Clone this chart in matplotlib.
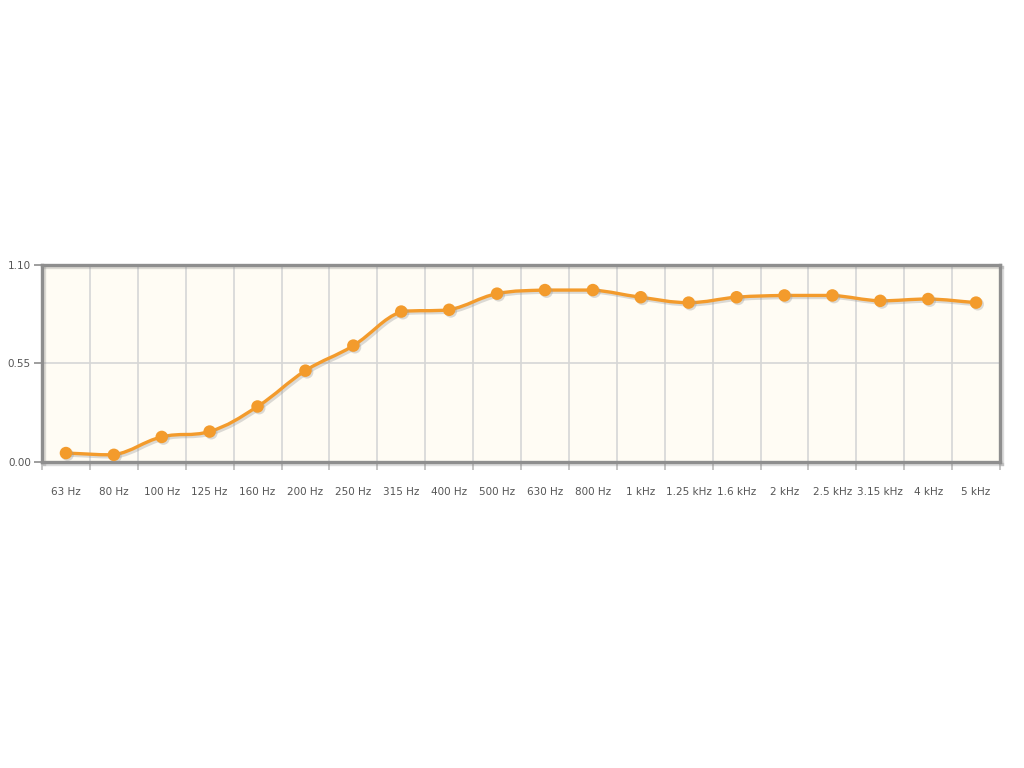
import numpy as np
import matplotlib
matplotlib.use("Agg")
import matplotlib.pyplot as plt
from matplotlib.path import Path
from matplotlib.patches import PathPatch
import matplotlib.patheffects as pe

# Data
bands = ["63 Hz", "80 Hz", "100 Hz", "125 Hz", "160 Hz", "200 Hz", "250 Hz",
         "315 Hz", "400 Hz", "500 Hz", "630 Hz", "800 Hz", "1 kHz", "1.25 kHz",
         "1.6 kHz", "2 kHz", "2.5 kHz", "3.15 kHz", "4 kHz", "5 kHz"]
absorption = [0.05, 0.04, 0.14, 0.17, 0.31, 0.51, 0.65, 0.84, 0.85, 0.94,
              0.96, 0.96, 0.92, 0.89, 0.92, 0.93, 0.93, 0.90, 0.91, 0.89]
y_ticks = [0.00, 0.55, 1.10]

orange = "#F39B2C"
border = "#8E8E8E"

fig = plt.figure(figsize=(10.24, 7.68), dpi=100)
ax = fig.add_axes([42 / 1024, 1 - 462 / 768, 958 / 1024, 197 / 768])
ax.set_facecolor("#FFFCF4")

x = np.arange(len(bands))
ax.set_xlim(-0.5, len(bands) - 0.5)
ax.set_ylim(0, 1.10)

# grid
for b in np.arange(0.5, len(bands) - 0.5, 1):
    ax.axvline(b, color="#D6D6D6", lw=1.2, zorder=1)
ax.axhline(0.55, color="#D6D6D6", lw=1.2, zorder=1)

# smooth line through the points, control points kept inside each segment
pts = np.column_stack([x, absorption]).astype(float)
verts = [tuple(pts[0])]
codes = [Path.MOVETO]
for i in range(len(pts) - 1):
    p0 = pts[i - 1] if i > 0 else pts[i]
    p1, p2 = pts[i], pts[i + 1]
    p3 = pts[i + 2] if i + 2 < len(pts) else pts[i + 1]
    s1 = (p2[1] - p0[1]) / max(p2[0] - p0[0], 1)
    s2 = (p3[1] - p1[1]) / max(p3[0] - p1[0], 1)
    lo, hi = min(p1[1], p2[1]), max(p1[1], p2[1])
    c1 = (p1[0] + 0.4, np.clip(p1[1] + s1 * 0.4, lo, hi))
    c2 = (p2[0] - 0.4, np.clip(p2[1] - s2 * 0.4, lo, hi))
    verts += [c1, c2, tuple(p2)]
    codes += [Path.CURVE4] * 3
line = PathPatch(Path(verts, codes), facecolor="none", edgecolor=orange, lw=2.4,
                 zorder=3, capstyle="round", joinstyle="round")
line.set_path_effects([pe.SimpleLineShadow(offset=(1.5, -1.5), shadow_color="#999999", alpha=0.35),
                       pe.Normal()])
ax.add_patch(line)
ax.plot(x, absorption, "o", color=orange, ms=9, mec="none", zorder=4,
        path_effects=[pe.SimplePatchShadow(offset=(1.2, -1.2), shadow_rgbFace="#999999", alpha=0.35),
                      pe.Normal()])

# frame
for side in ["top", "right", "bottom", "left"]:
    ax.spines[side].set_color(border)
    ax.spines[side].set_linewidth(2.4)
    ax.spines[side].set_path_effects([pe.SimpleLineShadow(offset=(1.5, -1.5), shadow_color="#888888", alpha=0.3),
                                      pe.Normal()])

ax.set_yticks(y_ticks)
ax.set_yticklabels([f"{v:.2f}" for v in y_ticks])
ax.tick_params(axis="y", length=6, width=1.2, color=border, labelsize=7.5,
               labelcolor="#555555", pad=2)

ax.set_xticks(np.arange(-0.5, len(bands), 1), minor=False)
ax.set_xticklabels([])
ax.tick_params(axis="x", which="major", length=6, width=1.2, color="#BBBBBB", direction="out")
ax.set_xticks(x, minor=True)
ax.set_xticklabels(bands, minor=True)
ax.tick_params(axis="x", which="minor", length=0, pad=18, labelsize=7.5, labelcolor="#555555")

fig.savefig("out.png", dpi=100, facecolor="white")
